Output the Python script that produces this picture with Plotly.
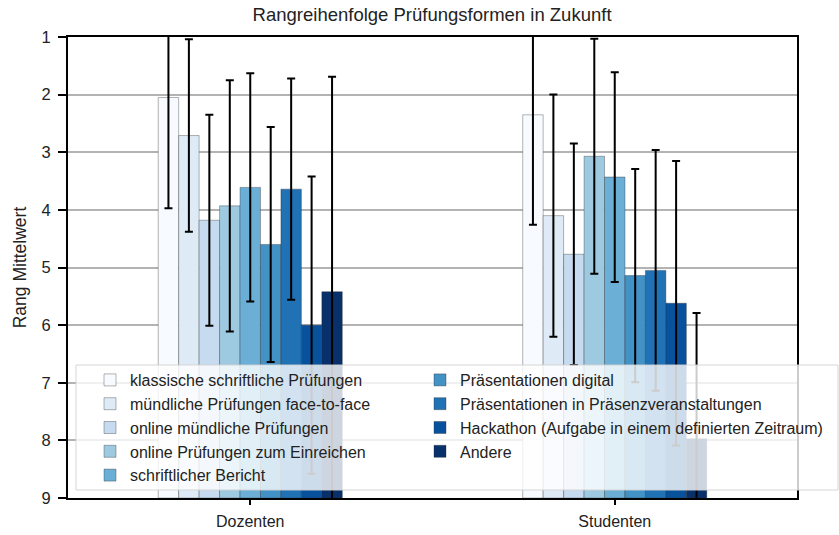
import plotly.graph_objects as go

# Ranking of exam formats (mean rank, lower = better) for two respondent groups
groups = ["Dozenten", "Studenten"]
formats = [
    "klassische schriftliche Prüfungen",
    "mündliche Prüfungen face-to-face",
    "online mündliche Prüfungen",
    "online Prüfungen zum Einreichen",
    "schriftlicher Bericht",
    "Präsentationen digital",
    "Präsentationen in Präsenzveranstaltungen",
    "Hackathon (Aufgabe in einem definierten Zeitraum)",
    "Andere",
]
mean_dozenten = [2.05, 2.71, 4.18, 3.93, 3.61, 4.60, 3.64, 6.00, 5.42]
mean_studenten = [2.35, 4.10, 4.77, 3.07, 3.43, 5.14, 5.05, 5.62, 7.97]
std_dozenten = [1.92, 1.67, 1.83, 2.18, 1.98, 2.04, 1.92, 2.58, 3.73]
std_studenten = [1.91, 2.10, 1.92, 2.04, 1.82, 1.85, 2.09, 2.47, 2.18]
y_ticks = [1, 2, 3, 4, 5, 6, 7, 8, 9]
worst_rank = 9  # bars rise from the worst possible rank

# Blues palette, light to dark
colors = ["#f7fbff", "#deebf7", "#c6dbef", "#9ecae1", "#6baed6",
          "#4292c6", "#2171b5", "#08519c", "#08306b"]

FONT = "Liberation Sans, Arial, sans-serif"
W, H = 839, 535
ML, MR, MT, MB = 68, 42, 37, 37
PW, PH = W - ML - MR, H - MT - MB


def px_x(px):
    return (px - ML) / PW


def px_y(py):
    return (H - MB - py) / PH


fig = go.Figure()
for i, name in enumerate(formats):
    means = [mean_dozenten[i], mean_studenten[i]]
    fig.add_trace(go.Bar(
        x=groups,
        y=[m - worst_rank for m in means],
        base=worst_rank,
        customdata=means,
        hovertemplate="%{x}<br>" + name + ": %{customdata:.2f}<extra></extra>",
        name=name,
        marker=dict(color=colors[i], line=dict(color="rgba(40,40,40,0.5)", width=0.7)),
        error_y=dict(type="data", array=[std_dozenten[i], std_studenten[i]],
                     color="black", thickness=2, width=4),
        legend="legend" if i < 5 else "legend2",
    ))

# semi-transparent frame behind the two legend columns
fig.add_shape(type="rect", xref="paper", yref="paper",
              x0=px_x(76), x1=px_x(838), y0=px_y(490), y1=px_y(365),
              fillcolor="rgba(255,255,255,0.8)",
              line=dict(color="rgba(210,210,210,0.9)", width=1), layer="above")

legend_common = dict(
    bgcolor="rgba(0,0,0,0)", borderwidth=0,
    font=dict(family=FONT, size=16, color="#222"),
    xanchor="left", yanchor="top", orientation="v",
    itemclick=False, itemdoubleclick=False,
)

fig.update_layout(
    width=W, height=H,
    margin=dict(l=ML, r=MR, t=MT, b=MB, autoexpand=False),
    paper_bgcolor="white", plot_bgcolor="white",
    barmode="group", bargap=0.495, bargroupgap=0,
    font=dict(family=FONT, size=16, color="#222"),
    title=dict(text="Rangreihenfolge Prüfungsformen in Zukunft",
               x=0.515, xanchor="center", y=1 - 15 / H, yanchor="middle",
               font=dict(family=FONT, size=18.5, color="#222")),
    legend=dict(x=px_x(90), y=px_y(363), **legend_common),
    legend2=dict(x=px_x(420), y=px_y(363), **legend_common),
    showlegend=True,
)

fig.update_xaxes(
    showline=True, linecolor="black", linewidth=2, mirror=True,
    ticks="outside", ticklen=5, tickwidth=1.5, tickcolor="black",
    showgrid=False, tickfont=dict(size=16, color="#222"), ticklabelstandoff=3,
)
fig.update_yaxes(
    range=[9, 1], tickvals=y_ticks, ticktext=[str(v) for v in y_ticks],
    showline=True, linecolor="black", linewidth=2, mirror=True,
    ticks="outside", ticklen=8, tickwidth=1.5, tickcolor="black",
    showgrid=True, gridcolor="#b3b3b3", gridwidth=1.5,
    zeroline=False, tickfont=dict(size=16.5, color="#222"), ticklabelstandoff=4,
    title=dict(text="Rang Mittelwert", font=dict(size=17.5, color="#222"), standoff=10),
)

fig.write_html("out.html")
